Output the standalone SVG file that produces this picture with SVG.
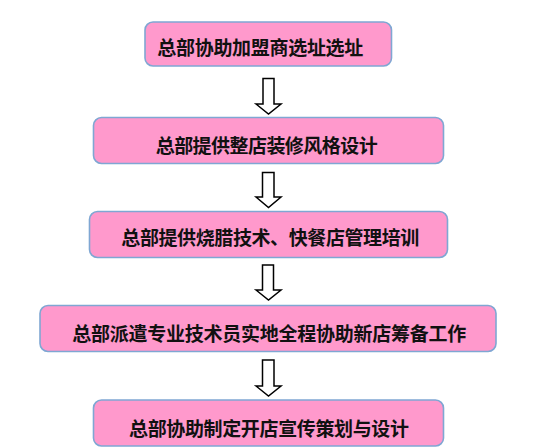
<svg xmlns="http://www.w3.org/2000/svg" width="544" height="448" viewBox="0 0 544 448">
<style>
.box{fill:#FF99CC;stroke:#7FA7D3;stroke-width:1.6}
.t{font-family:"Noto Sans CJK SC","Noto Sans",sans-serif;font-size:19px;font-weight:bold;fill:#111}
.arr{fill:#FFFFFF;stroke:#000;stroke-width:1.5;stroke-linejoin:miter}
</style>
<rect width="544" height="448" fill="#FFFFFF"/>
<g id="node1">
<rect class="box" x="145" y="22" width="246.5" height="44" rx="8"/>
<text class="t" x="157.3" y="54.5" textLength="206" lengthAdjust="spacing">总部协助加盟商选址选址</text>
</g>
<g id="node2">
<rect class="box" x="93.5" y="117.5" width="350" height="46" rx="8"/>
<text class="t" x="155.7" y="153" textLength="222" lengthAdjust="spacing">总部提供整店装修风格设计</text>
</g>
<g id="node3">
<rect class="box" x="89.5" y="211.5" width="358" height="46" rx="8"/>
<text class="t" x="121.3" y="244.5" textLength="298" lengthAdjust="spacing">总部提供烧腊技术、快餐店管理培训</text>
</g>
<g id="node4">
<rect class="box" x="40" y="305.5" width="456" height="46" rx="8"/>
<text class="t" x="72.3" y="340.5" textLength="394" lengthAdjust="spacing">总部派遣专业技术员实地全程协助新店筹备工作</text>
</g>
<g id="node5">
<rect class="box" x="93.5" y="400" width="350" height="46" rx="8"/>
<text class="t" x="129" y="435.5" textLength="280" lengthAdjust="spacing">总部协助制定开店宣传策划与设计</text>
</g>
<g id="connectors">
<path class="arr" d="M263,78.5 H274 V104 H281 L268.5,114 L256,104 H263 Z"/>
<path class="arr" d="M262.5,172.5 H274 V197 H281 L268.5,207.5 L256,197 H262.5 Z"/>
<path class="arr" d="M262.5,265 H273.5 V290 H281 L268.5,300 L256,290 H262.5 Z"/>
<path class="arr" d="M262.5,360 H274 V386 H281 L268.5,396 L256,386 H262.5 Z"/>
</g>
</svg>
